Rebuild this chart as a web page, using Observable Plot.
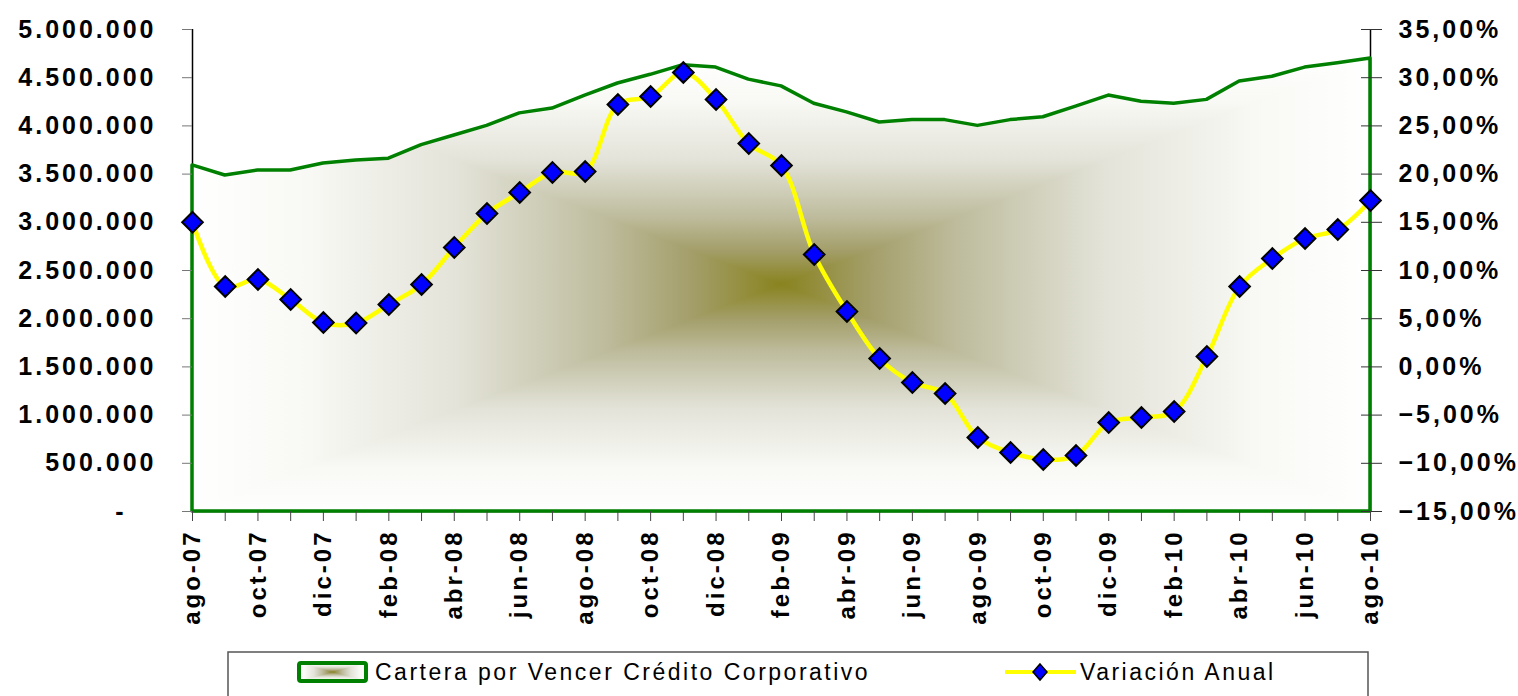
<!DOCTYPE html>
<html>
<head>
<meta charset="utf-8">
<script src="https://cdn.jsdelivr.net/npm/d3@7"></script>
<script src="https://cdn.jsdelivr.net/npm/@observablehq/plot@0.6"></script>
<style>
  body { margin: 0; background: #fff; }
  #chart { position: absolute; left: 0; top: 0; }
  #chart svg text { letter-spacing: 3px; }
  #legend { position: absolute; left: 0; top: 648px; }
  #legend text { font-family: "Liberation Sans", Arial, sans-serif; font-size: 23px; letter-spacing: 2.5px; fill: #000; }
</style>
</head>
<body>
<div id="chart"></div>
<svg id="legend" width="1518" height="48" xmlns="http://www.w3.org/2000/svg"></svg>
<script>
const months = ["ago-07","sep-07","oct-07","nov-07","dic-07","ene-08","feb-08","mar-08","abr-08","may-08","jun-08","jul-08",
  "ago-08","sep-08","oct-08","nov-08","dic-08","ene-09","feb-09","mar-09","abr-09","may-09","jun-09","jul-09",
  "ago-09","sep-09","oct-09","nov-09","dic-09","ene-10","feb-10","mar-10","abr-10","may-10","jun-10","jul-10","ago-10"];
const cartera = [3590000, 3485000, 3537000, 3537000, 3610000, 3640000, 3660000, 3800000, 3900000, 4000000, 4130000, 4180000,
  4315000, 4440000, 4530000, 4630000, 4605000, 4480000, 4410000, 4230000, 4140000, 4035000, 4060000, 4060000,
  4000000, 4060000, 4090000, 4200000, 4315000, 4250000, 4230000, 4270000, 4460000, 4510000, 4605000, 4650000, 4700000];
const variacion = [15.0, 8.34, 9.07, 7.0, 4.6, 4.55, 6.47, 8.55, 12.39, 15.91, 18.1, 20.17,
  20.27, 27.22, 28.05, 30.54, 27.74, 23.17, 20.89, 11.66, 5.75, 0.87, -1.62, -2.76,
  -7.32, -8.88, -9.6, -9.19, -5.77, -5.25, -4.63, 1.08, 8.34, 11.24, 13.32, 14.25, 17.26];
const leftTicks = [0, 500000, 1000000, 1500000, 2000000, 2500000, 3000000, 3500000, 4000000, 4500000, 5000000];
const rightTicks = [-15, -10, -5, 0, 5, 10, 15, 20, 25, 30, 35];
const labelMonths = months.filter((m, i) => i % 2 === 0);
const seriesNames = ["Cartera por Vencer Crédito Corporativo", "Variación Anual"];

const data = months.map((m, i) => ({month: m, cartera: cartera[i], variacion: variacion[i]}));
// right axis (%) mapped onto the left scale: -15% -> 0, 35% -> 5.000.000
const pctToLeft = p => (p + 15) * 100000;
const labelSet = new Set(labelMonths);
const fmtLeft = d => d === 0 ? "-\u00a0\u00a0\u00a0" : d3.format(",")(d).replace(/,/g, ".");
const fmtPct = p => d3.format(".2f")(p).replace(".", ",") + "%";

const diamond = {
  draw(ctx, size) {
    const r = Math.sqrt(size) * 0.62625;
    ctx.moveTo(0, -r); ctx.lineTo(r, 0); ctx.lineTo(0, r); ctx.lineTo(-r, 0); ctx.closePath();
  }
};

const svg = Plot.plot({
  width: 1518,
  height: 648,
  marginLeft: 192,
  marginRight: 148,
  marginTop: 29,
  marginBottom: 137,
  style: {fontFamily: "'Liberation Sans', Arial, sans-serif", fontSize: "25px", fontWeight: "bold", color: "#000", background: "transparent"},
  x: {type: "point", domain: months, padding: 0, round: false, label: null},
  y: {domain: [0, 5000000], label: null},
  marks: [
    Plot.ruleX([months[0]], {y1: 0, y2: 5000000, stroke: "#000", strokeWidth: 1.5}),
    Plot.ruleX([months[months.length - 1]], {y1: 0, y2: 5000000, stroke: "#000", strokeWidth: 1.5}),
    Plot.ruleY([0], {stroke: "#000", strokeWidth: 1.5}),
    Plot.areaY(data, {x: "month", y: "cartera", fill: "url(#rectGrad)", stroke: "#008000", strokeWidth: 3.5, strokeLinejoin: "round"}),
    Plot.axisY({anchor: "left", label: null, ticks: leftTicks, tickFormat: fmtLeft, tickSize: 10, tickPadding: 26, stroke: "#777", fill: "#000"}),
    Plot.axisY({anchor: "right", label: null, ticks: leftTicks, tickFormat: () => "", tickSize: 21, dx: -10, stroke: "#333"}),
    Plot.axisY({anchor: "right", label: null, ticks: rightTicks.map(pctToLeft), tickFormat: d => fmtPct(d / 100000 - 15), tickSize: 0, tickPadding: 28, fill: "#000"}),
    Plot.axisX({anchor: "bottom", label: null, ticks: months, tickFormat: d => labelSet.has(d) ? d : "", tickSize: 10, tickPadding: 8, tickRotate: -90, stroke: "#444", fill: "#000", fontSize: 24}),
    Plot.line(data, {x: "month", y: d => pctToLeft(d.variacion), stroke: "#ffff00", strokeWidth: 4.5, curve: "catmull-rom"}),
    Plot.dot(data, {x: "month", y: d => pctToLeft(d.variacion), symbol: diamond, r: 9.3, fill: "#0000ff", stroke: "#000", strokeWidth: 2})
  ]
});

const NS = "http://www.w3.org/2000/svg";
const stops = [[0, "#ffffff"], [0.2, "#f8f8f4"], [0.45, "#e3e3d9"], [0.7, "#bebc9d"], [0.85, "#a39e69"], [1, "#89831f"]];
function el(name, attrs, parent) {
  const e = document.createElementNS(NS, name);
  for (const k in attrs) e.setAttribute(k, attrs[k]);
  if (parent) parent.appendChild(e);
  return e;
}
const defs = el("defs", {});
function grad(id, x1, y1, x2, y2) {
  const g = el("linearGradient", {id, x1, y1, x2, y2}, defs);
  for (const [o, c] of stops) el("stop", {offset: o, "stop-color": c}, g);
}
grad("gTop", 0, 0, 0, 1);
grad("gBot", 0, 1, 0, 0);
grad("gLeft", 0, 0, 1, 0);
grad("gRight", 1, 0, 0, 0);
const pat = el("pattern", {id: "rectGrad", patternUnits: "objectBoundingBox", patternContentUnits: "objectBoundingBox", x: 0, y: 0, width: 1, height: 1}, defs);
el("rect", {x: 0, y: 0, width: 1, height: 0.5, fill: "url(#gTop)"}, pat);
el("rect", {x: 0, y: 0.5, width: 1, height: 0.5, fill: "url(#gBot)"}, pat);
el("polygon", {points: "0,0 0.5,0.5 0,1", fill: "url(#gLeft)"}, pat);
el("polygon", {points: "1,0 0.5,0.5 1,1", fill: "url(#gRight)"}, pat);
svg.insertBefore(defs, svg.firstChild);
document.getElementById("chart").appendChild(svg);

// legend
const lg = document.getElementById("legend");
el("rect", {x: 228, y: 4, width: 1140, height: 60, fill: "#fff", stroke: "#555", "stroke-width": 1.5}, lg);
el("rect", {x: 299, y: 15, width: 67, height: 18, rx: 2, fill: "url(#rectGrad)", stroke: "#008000", "stroke-width": 4}, lg);
const t1 = el("text", {x: 375, y: 32}, lg); t1.textContent = seriesNames[0];
el("line", {x1: 1005, y1: 24, x2: 1076, y2: 24, stroke: "#ffff00", "stroke-width": 4}, lg);
el("path", {d: "M1040,16 L1047,24 L1040,32 L1033,24 Z", fill: "#0000ff", stroke: "#000", "stroke-width": 1.5}, lg);
const t2 = el("text", {x: 1080, y: 32}, lg); t2.textContent = seriesNames[1];
</script>
</body>
</html>
